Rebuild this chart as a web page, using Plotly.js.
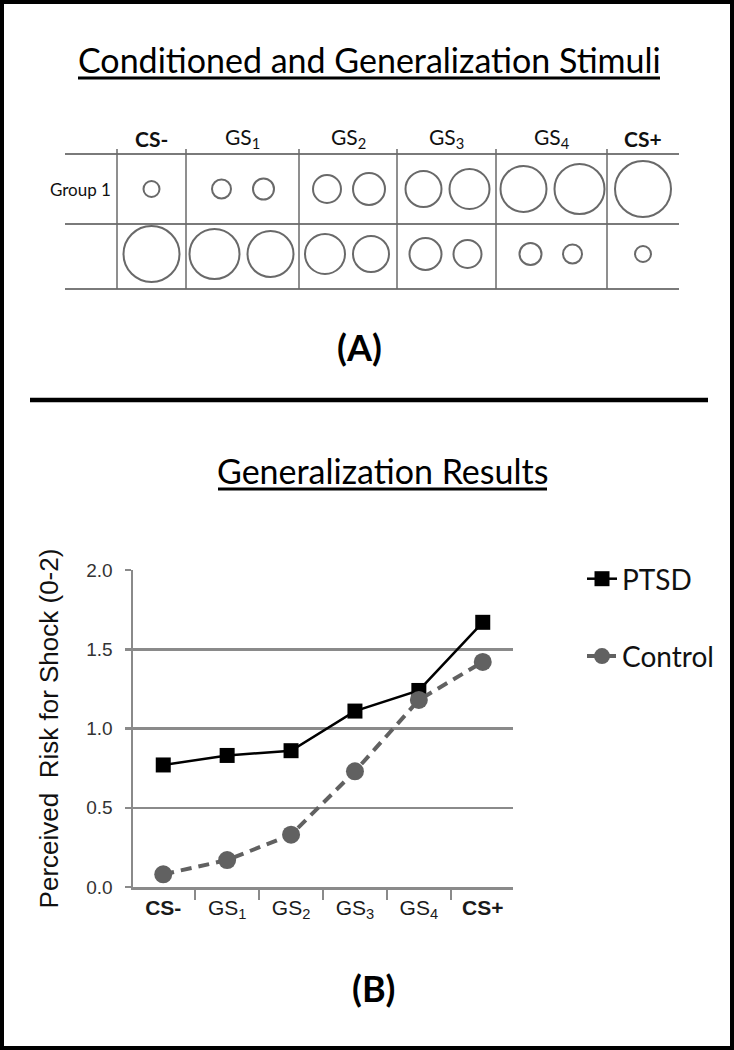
<!DOCTYPE html>
<html>
<head>
<meta charset="utf-8">
<script src="https://cdn.plot.ly/plotly-3.0.1.min.js"></script>
<style>html,body{margin:0;padding:0;background:#fff;}</style>
</head>
<body>
<div id="chart" style="width:734px;height:1050px;"></div>
<script>
// ---------------- DATA ----------------
const categories = ['CS-', 'GS1', 'GS2', 'GS3', 'GS4', 'CS+'];
const tickLabels = ['<b>CS-</b>', 'GS<sub>1</sub>', 'GS<sub>2</sub>', 'GS<sub>3</sub>', 'GS<sub>4</sub>', '<b>CS+</b>'];
const ptsdValues = [0.77, 0.83, 0.86, 1.11, 1.24, 1.67];
const controlValues = [0.08, 0.17, 0.33, 0.73, 1.18, 1.42];
const seriesNames = ['PTSD', 'Control'];

// stimulus circle diameters (px) per column, for the two counterbalanced groups
const group1Diameters = [[16], [19, 21], [28, 32], [36, 40], [46, 50], [56]];
const group2Diameters = [[56], [50, 46], [40, 36], [32, 28], [22, 19], [16]];
const rowLabels = ['Group 1', ''];

const topTitle = 'Conditioned and Generalization Stimuli';
const bottomTitle = 'Generalization Results';
const yTitle = 'Perceived\u00a0 Risk for Shock (0-2)';

// ---------------- LAYOUT CONSTANTS ----------------
const W = 734, H = 1050;
const calibri = 'Lato, "Open Sans", sans-serif';
const arial = '"Liberation Sans", Arial, sans-serif';
const colEdges = [117, 186, 299, 397, 496, 607];
const tableRight = 679, tableLeft = 65;
const rowLines = [154, 224, 289];
const rowCenters = [189, 254];
const headerY = 138;

function cellCenter(i) {
  const r = i + 1 < colEdges.length ? colEdges[i + 1] : tableRight;
  return (colEdges[i] + r) / 2;
}

// build stimulus marker positions from data
const cx = [], cy = [], cs = [];
[group1Diameters, group2Diameters].forEach((rowData, ri) => {
  rowData.forEach((diams, ci) => {
    const c = cellCenter(ci);
    if (diams.length === 1) {
      cx.push(c); cy.push(rowCenters[ri]); cs.push(diams[0]);
    } else {
      const dist = Math.max(42, (diams[0] + diams[1]) / 2 + 8);
      cx.push(c - dist / 2, c + dist / 2);
      cy.push(rowCenters[ri], rowCenters[ri]);
      cs.push(diams[0], diams[1]);
    }
  });
});

const traces = [
  {
    x: cx, y: cy, xaxis: 'x2', yaxis: 'y2', mode: 'markers', type: 'scatter',
    showlegend: false, hoverinfo: 'skip',
    marker: { symbol: 'circle', size: cs, color: 'rgba(0,0,0,0)', line: { color: '#2b2b2b', width: 2 } }
  },
  {
    x: categories, y: ptsdValues, name: seriesNames[0], type: 'scatter', mode: 'lines+markers',
    legendgroup: 'a',
    line: { color: '#000000', width: 2.5 },
    marker: { symbol: 'square', size: 15, color: '#000000' }
  },
  {
    x: categories, y: controlValues, name: seriesNames[1], type: 'scatter', mode: 'lines+markers',
    legendgroup: 'b',
    line: { color: '#616161', width: 4, dash: '11px,7px' },
    marker: { symbol: 'circle', size: 18, color: '#616161' }
  }
];

const shapes = [];
const grayLine = '#7a7a7a';
rowLines.forEach(y => shapes.push({ type: 'line', xref: 'x2', yref: 'y2', x0: tableLeft, x1: tableRight, y0: y, y1: y, line: { color: grayLine, width: 2 } }));
colEdges.forEach(x => shapes.push({ type: 'line', xref: 'x2', yref: 'y2', x0: x, x1: x, y0: 149, y1: 289, line: { color: '#6a6a6a', width: 1.5 } }));
// underlines, separator, border
shapes.push({ type: 'line', xref: 'x2', yref: 'y2', x0: 78, x1: 660, y0: 78, y1: 78, line: { color: '#000', width: 3 } });
shapes.push({ type: 'line', xref: 'x2', yref: 'y2', x0: 218, x1: 547, y0: 489, y1: 489, line: { color: '#000', width: 3 } });
shapes.push({ type: 'line', xref: 'x2', yref: 'y2', x0: 30, x1: 708, y0: 400, y1: 400, line: { color: '#000', width: 4.5 } });
shapes.push({ type: 'rect', xref: 'paper', yref: 'paper', x0: 0, x1: 1, y0: 0, y1: 1, line: { color: '#000', width: 8 } });

const annotations = [
  { text: topTitle, x: 369, y: 59, xref: 'x2', yref: 'y2', showarrow: false, font: { family: calibri, size: 34, color: '#000' } },
  { text: '<b>(A)</b>', x: 359, y: 347, xref: 'x2', yref: 'y2', showarrow: false, font: { family: calibri, size: 36, color: '#000' } },
  { text: bottomTitle, x: 382, y: 470, xref: 'x2', yref: 'y2', showarrow: false, font: { family: calibri, size: 34, color: '#000' } },
  { text: '<b>(B)</b>', x: 373, y: 988, xref: 'x2', yref: 'y2', showarrow: false, font: { family: calibri, size: 36, color: '#000' } },
  { text: rowLabels[0], x: 113, y: rowCenters[0], xref: 'x2', yref: 'y2', xanchor: 'right', showarrow: false, font: { family: calibri, size: 17, color: '#111' } }
];
const headerLabels = ['<b>CS-</b>', 'GS<sub>1</sub>', 'GS<sub>2</sub>', 'GS<sub>3</sub>', 'GS<sub>4</sub>', '<b>CS+</b>'];
headerLabels.forEach((t, i) => annotations.push({
  text: t, x: cellCenter(i), y: headerY, xref: 'x2', yref: 'y2', showarrow: false,
  font: { family: calibri, size: 21, color: '#111' }
}));

const layout = {
  width: W, height: H,
  margin: { l: 0, r: 0, t: 0, b: 0 },
  paper_bgcolor: '#ffffff', plot_bgcolor: 'rgba(0,0,0,0)',
  showlegend: true,
  xaxis: {
    domain: [133 / W, 513 / W], type: 'category', anchor: 'y',
    tickvals: categories, ticktext: tickLabels, tickson: 'boundaries',
    ticks: 'outside', ticklen: 10, tickwidth: 2.5, tickcolor: '#8a8a8a',
    showline: true, linecolor: '#8a8a8a', linewidth: 2.5, showgrid: false,
    tickfont: { family: arial, size: 21, color: '#1a1a1a' }, fixedrange: true
  },
  yaxis: {
    domain: [1 - 887 / H, 1 - 570 / H], range: [0, 2], dtick: 0.5, tickformat: '.1f', anchor: 'x',
    ticks: 'outside', ticklen: 6, tickwidth: 2.5, tickcolor: '#8a8a8a',
    showline: true, linecolor: '#8a8a8a', linewidth: 2.5,
    showgrid: true, gridcolor: '#8a8a8a', gridwidth: 2.5, zeroline: false,
    tickfont: { family: arial, size: 19, color: '#333' }, ticklabelstandoff: 8,
    title: { text: yTitle, font: { family: arial, size: 26, color: '#111' }, standoff: 20 },
    fixedrange: true
  },
  xaxis2: { domain: [0, 1], range: [0, W], visible: false, anchor: 'y2', fixedrange: true },
  yaxis2: { domain: [0, 1], range: [H, 0], visible: false, anchor: 'x2', fixedrange: true },
  legend: {
    x: 582 / W, y: 1 - 554 / H, xanchor: 'left', yanchor: 'top',
    font: { family: calibri, size: 28, color: '#111' },
    traceorder: 'grouped', tracegroupgap: 38, bgcolor: 'rgba(0,0,0,0)'
  },
  shapes: shapes,
  annotations: annotations
};

Plotly.newPlot('chart', traces, layout, { staticPlot: true, displayModeBar: false });
</script>
</body>
</html>
